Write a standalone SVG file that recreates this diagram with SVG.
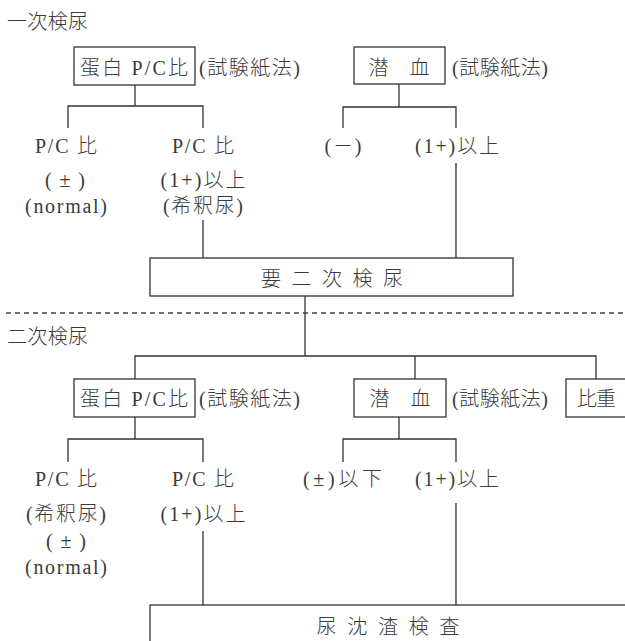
<svg xmlns="http://www.w3.org/2000/svg" width="625" height="641" viewBox="0 0 625 641">
<style>
text{font-family:"Liberation Serif","Noto Sans CJK JP",serif;font-size:20px;font-weight:300;fill:#3a3a3a}
.m{text-anchor:middle}
.box{fill:#fff;stroke:#333;stroke-width:1.3}
.ln{stroke:#333;stroke-width:1.3;fill:none}
.dash{stroke:#444;stroke-width:1.3;stroke-dasharray:5 4}
</style>
<rect width="625" height="641" fill="#fff"/>
<g id="connectors">
<path class="ln" d="M135,85V106M68,128V106H203V128"/>
<path class="ln" d="M399,84V107M343,128V107H456V128"/>
<path class="ln" d="M456,163V258M203,220V258"/>
<path class="ln" d="M305,296V356M135,379V356H596V379M415,356V379"/>
<path class="ln" d="M135,417V439M68,462V439H203V462"/>
<path class="ln" d="M399,417V439M343,462V439H456V462"/>
<path class="ln" d="M456,503V605M203,531V605"/>
</g>
<g id="divider"><line class="dash" x1="6" y1="313" x2="625" y2="313"/></g>
<g id="title1"><text x="7" y="29" textLength="81">一次検尿</text></g>
<g id="title2"><text x="7" y="344" textLength="81">二次検尿</text></g>
<g id="n-protein1">
<rect class="box" x="74" y="47" width="121" height="38"/>
<text class="m" x="134" y="75" textLength="108">蛋白 P/C比</text>
<text x="199" y="75" textLength="101">(試験紙法)</text>
</g>
<g id="n-blood1">
<rect class="box" x="354" y="47" width="91" height="37"/>
<text class="m" x="399" y="75" textLength="61">潜　血</text>
<text x="452" y="75" textLength="96">(試験紙法)</text>
</g>
<g id="n-pc1a">
<text class="m" x="66" y="153" textLength="62">P/C 比</text>
<text class="m" x="65" y="187" textLength="40">(±)</text>
<text class="m" x="66" y="213" textLength="82">(normal)</text>
</g>
<g id="n-pc1b">
<text class="m" x="203" y="153" textLength="62">P/C 比</text>
<text class="m" x="203" y="187" textLength="85">(1+)以上</text>
<text class="m" x="203" y="213" textLength="80">(希釈尿)</text>
</g>
<g id="n-bl1a"><text class="m" x="343" y="153" textLength="37">(－)</text></g>
<g id="n-bl1b"><text x="415" y="153" textLength="84">(1+)以上</text></g>
<g id="n-second">
<rect class="box" x="150" y="258" width="363" height="38"/>
<text class="m" x="332" y="286" textLength="142">要 二 次 検 尿</text>
</g>
<g id="n-protein2">
<rect class="box" x="74" y="379" width="121" height="38"/>
<text class="m" x="134" y="406" textLength="108">蛋白 P/C比</text>
<text x="199" y="406" textLength="101">(試験紙法)</text>
</g>
<g id="n-blood2">
<rect class="box" x="354" y="379" width="92" height="38"/>
<text class="m" x="400" y="406" textLength="61">潜　血</text>
<text x="452" y="406" textLength="96">(試験紙法)</text>
</g>
<g id="n-sg">
<rect class="box" x="566" y="379" width="62" height="38"/>
<text x="577" y="406" textLength="39">比重</text>
</g>
<g id="n-pc2a">
<text class="m" x="66" y="486" textLength="62">P/C 比</text>
<text class="m" x="66" y="521" textLength="80">(希釈尿)</text>
<text class="m" x="66" y="548" textLength="40">(±)</text>
<text class="m" x="66" y="574" textLength="82">(normal)</text>
</g>
<g id="n-pc2b">
<text class="m" x="203" y="486" textLength="62">P/C 比</text>
<text class="m" x="203" y="521" textLength="85">(1+)以上</text>
</g>
<g id="n-bl2a"><text x="303" y="486" textLength="79">(±)以下</text></g>
<g id="n-bl2b"><text x="415" y="486" textLength="84">(1+)以上</text></g>
<g id="n-sediment">
<rect class="box" x="150" y="605" width="480" height="45"/>
<text class="m" x="388" y="634" textLength="143">尿 沈 渣 検 査</text>
</g>
</svg>
